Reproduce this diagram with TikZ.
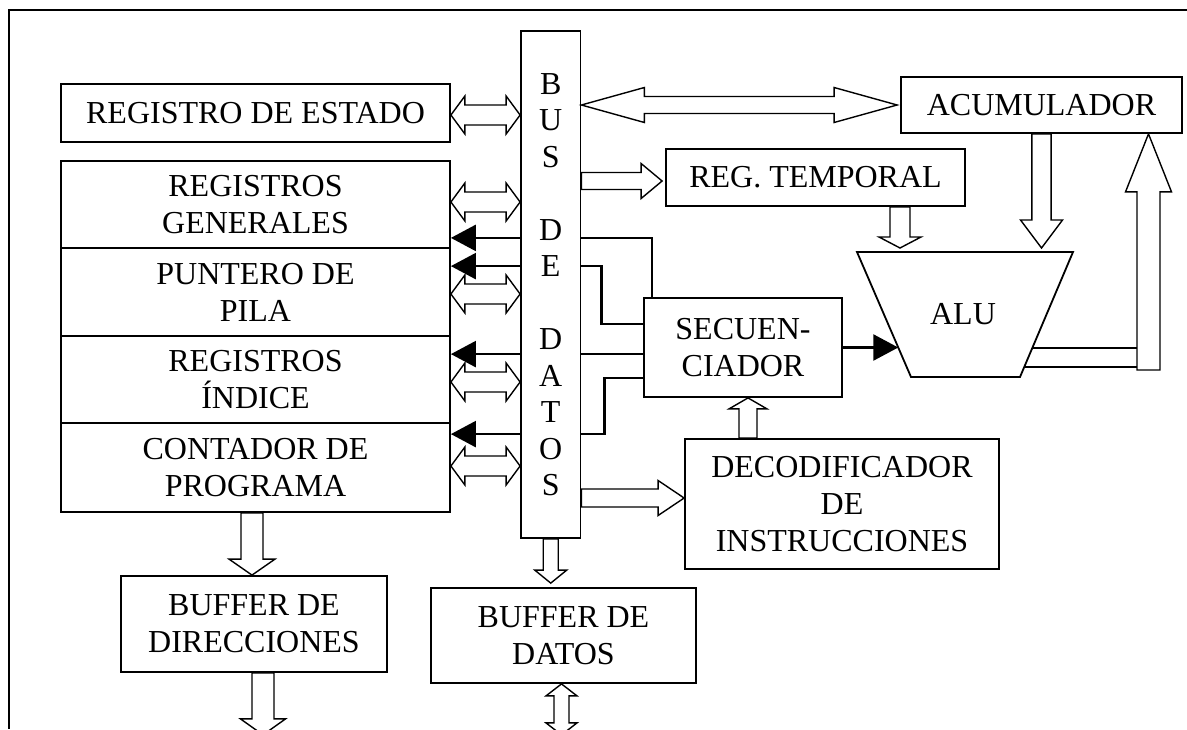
\documentclass[tikz,border=0pt]{standalone}
\usepackage{fontspec}
\setmainfont{Liberation Serif}
\usetikzlibrary{arrows.meta,calc}

% hollow arrow: from, to, shaft half width, head half width, head length
\newcommand{\hollowarrow}[5]{%
  \path #1 coordinate (ha);
  \path #2 coordinate (hb);
  \coordinate (hh) at ($(hb)!#5!(ha)$);
  \draw[hollow] ($(ha)!#3!90:(hb)$) -- ($(hh)!#3!90:(hb)$) -- ($(hh)!#4!90:(hb)$) -- (hb)
    -- ($(hh)!#4!-90:(hb)$) -- ($(hh)!#3!-90:(hb)$) -- ($(ha)!#3!-90:(hb)$) -- cycle;
}
% hollow arrow with a head at both ends
\newcommand{\hollowdouble}[5]{%
  \path #1 coordinate (ha);
  \path #2 coordinate (hb);
  \coordinate (h1) at ($(ha)!#5!(hb)$);
  \coordinate (h2) at ($(hb)!#5!(ha)$);
  \draw[hollow] (ha) -- ($(h1)!#4!90:(hb)$) -- ($(h1)!#3!90:(hb)$) -- ($(h2)!#3!90:(hb)$)
    -- ($(h2)!#4!90:(hb)$) -- (hb) -- ($(h2)!#4!-90:(hb)$) -- ($(h2)!#3!-90:(hb)$)
    -- ($(h1)!#3!-90:(hb)$) -- ($(h1)!#4!-90:(hb)$) -- cycle;
}

\begin{document}
\begin{tikzpicture}[x=1pt,y=-1pt,font=\fontsize{32}{37}\selectfont,
    box/.style={draw,line width=1.8pt,inner sep=0pt,align=center},
    hollow/.style={line width=1.4pt,line join=miter},
    ctrl/.style={line width=2.6pt},
    blacktip/.style={-{Triangle[length=25pt,width=26pt]}}]
  \path[use as bounding box] (0,0) rectangle (1187,729);
  \clip (0,0) rectangle (1187,729);
  \draw[line width=1.6pt] (1187,10) -| (9,729);

  % registers
  \node[box,minimum width=389pt,minimum height=58pt] (estado) at (255.5,113) {REGISTRO DE ESTADO};
  \node[box,minimum width=389pt,minimum height=87pt] (gen) at (255.5,204.5) {REGISTROS\\GENERALES};
  \node[box,minimum width=389pt,minimum height=88pt] (pila) at (255.5,292) {PUNTERO DE\\PILA};
  \node[box,minimum width=389pt,minimum height=87pt] (indice) at (255.5,379.5) {REGISTROS\\ÍNDICE};
  \node[box,minimum width=389pt,minimum height=89pt] (contador) at (255.5,467.5) {CONTADOR DE\\PROGRAMA};

  % bus
  \node[box,minimum width=59.5pt,minimum height=507pt,font=\fontsize{32}{36.5}\selectfont] (bus) at (550.75,284.5)
    {B\\U\\S\\~\\D\\E\\~\\D\\A\\T\\O\\S};

  \node[box,minimum width=281pt,minimum height=56pt] (acum) at (1041.5,105) {ACUMULADOR};
  \node[box,minimum width=299pt,minimum height=57pt] (temp) at (815.5,177.5) {REG. TEMPORAL};
  \node[box,minimum width=198pt,minimum height=99pt] (secu) at (743,347.5) {SECUEN-\\CIADOR};
  \node[box,minimum width=314pt,minimum height=130pt] (decod) at (842,504) {DECODIFICADOR\\DE\\INSTRUCCIONES};
  \node[box,minimum width=266pt,minimum height=96pt] (bufdir) at (254,624) {BUFFER DE\\DIRECCIONES};
  \node[box,minimum width=265pt,minimum height=95pt] (bufdat) at (563.5,635.5) {BUFFER DE\\DATOS};

  % ALU
  \coordinate (alu-tl) at (857,252);
  \coordinate (alu-tr) at (1073,252);
  \coordinate (alu-br) at (1020,377);
  \coordinate (alu-bl) at (911,377);
  \draw[line width=1.8pt] (alu-tl) -- (alu-tr) -- (alu-br) -- (alu-bl) -- cycle;
  \node (alu) at (963,314) {ALU};
  \coordinate (alu-in) at ($(alu-tl)!0.764!(alu-bl)$);
  \coordinate (alu-o1) at ($(alu-tr)!0.768!(alu-br)$);
  \coordinate (alu-o2) at ($(alu-tr)!0.92!(alu-br)$);
  \coordinate (alu-out) at (1148.5,370);

  % data paths
  \hollowdouble{([yshift=-2pt]estado.east)}{([yshift=-2pt]bus.west |- estado.east)}{10pt}{19pt}{14pt}
  \hollowdouble{([yshift=2.5pt]gen.east)}{([yshift=2.5pt]bus.west |- gen.east)}{10pt}{19pt}{14pt}
  \hollowdouble{([yshift=-2pt]pila.east)}{([yshift=-2pt]bus.west |- pila.east)}{10pt}{19pt}{14pt}
  \hollowdouble{([yshift=-2.5pt]indice.east)}{([yshift=-2.5pt]bus.west |- indice.east)}{10pt}{19pt}{14pt}
  \hollowdouble{([yshift=1.5pt]contador.east)}{([yshift=1.5pt]bus.west |- contador.east)}{10pt}{19pt}{14pt}
  \hollowdouble{(bus.east |- acum.west)}{([xshift=-3pt]acum.west)}{8.5pt}{17.5pt}{63pt}
  \hollowarrow{([yshift=-3.5pt]bus.east |- temp.west)}{([xshift=-3pt,yshift=-3.5pt]temp.west)}{8.5pt}{17.5pt}{21pt}
  \hollowarrow{([xshift=84.5pt]temp.south)}{([xshift=84.5pt,yshift=4pt]temp.south |- alu-tl)}{10pt}{21pt}{11pt}
  \hollowarrow{(acum.south)}{([yshift=4pt]acum.south |- alu-tl)}{9.6pt}{21pt}{28pt}
  \hollowarrow{(alu-out)}{(alu-out |- acum.south)}{11.5pt}{23pt}{58pt}
  \draw[hollow] (alu-o1) -- ([xshift=-11.5pt]alu-out |- alu-o1);
  \draw[hollow] (alu-o2) -- ([xshift=-11.5pt]alu-out |- alu-o2);
  \hollowarrow{([xshift=-94pt]decod.north)}{([xshift=-94pt]decod.north |- secu.south)}{9pt}{19pt}{11pt}
  \hollowarrow{([yshift=6pt]bus.east |- decod.west)}{([yshift=6pt]decod.west)}{9pt}{17.5pt}{26pt}
  \hollowarrow{(bus.south)}{([yshift=4pt]bus.south |- bufdat.north)}{7.5pt}{16pt}{13pt}
  \hollowarrow{([xshift=-3.5pt]contador.south)}{([xshift=-3.5pt]contador.south |- bufdir.north)}{11pt}{23pt}{16pt}
  \hollowarrow{([xshift=9pt]bufdir.south)}{([xshift=9pt,yshift=-62pt]bufdir.south)}{11pt}{22.5pt}{16pt}
  \hollowdouble{([xshift=-2pt]bufdat.south)}{([xshift=-2pt,yshift=-51pt]bufdat.south)}{7.5pt}{15.5pt}{12pt}

  % control lines
  \coordinate (c1) at ([yshift=11pt]gen.south east);
  \coordinate (c2) at ([yshift=-19pt]pila.north east);
  \coordinate (c3) at ([yshift=-19pt]indice.north east);
  \coordinate (c4) at ([yshift=-12pt]contador.north east);
  \draw[ctrl] ([xshift=-91pt]secu.north) |- (bus.east |- c1);
  \draw[ctrl] ([yshift=23.5pt]secu.west) -| ([xshift=20pt]bus.east |- c2) -- (bus.east |- c2);
  \draw[ctrl] (secu.west |- c3) -- (bus.east |- c3);
  \draw[ctrl] ([yshift=-30.5pt]secu.west) -| ([xshift=23pt]bus.east |- c4) -- (bus.east |- c4);
  \draw[ctrl,blacktip] (bus.west |- c1) -- (c1);
  \draw[ctrl,blacktip] (bus.west |- c2) -- (c2);
  \draw[ctrl,blacktip] (bus.west |- c3) -- (c3);
  \draw[ctrl,blacktip] (bus.west |- c4) -- (c4);
  \draw[ctrl,blacktip] (secu.east) -- (alu-in);
\end{tikzpicture}
\end{document}
